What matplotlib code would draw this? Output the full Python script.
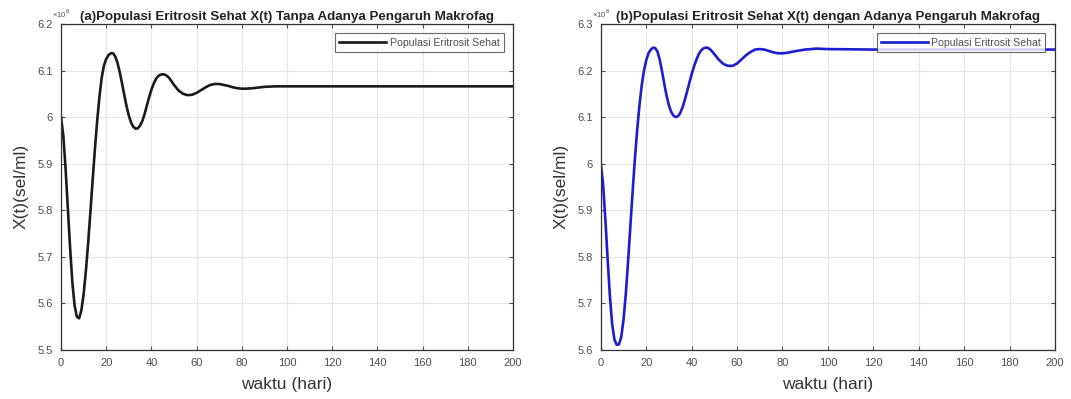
import numpy as np
import matplotlib
matplotlib.use('Agg')
import matplotlib.pyplot as plt

plt.rcParams['font.family'] = ['Liberation Sans', 'DejaVu Sans']

# waktu (hari) and X(t) (values x 10^6)
t_a = [0, 1, 2, 3, 4, 5, 6, 7, 8, 9, 10, 11, 12, 13, 14, 15, 16, 17, 18, 19,
       20, 21, 22, 23, 24, 25, 26, 27, 28, 29, 30, 31, 32, 33, 34, 35, 36, 37,
       38, 39, 40, 41, 42, 43, 44, 45, 46, 47, 48, 50, 52, 54, 56, 58, 60, 62,
       64, 66, 68, 70, 72, 74, 76, 78, 80, 82, 85, 90, 95, 100, 120, 150, 200]
x_a = [6.000, 5.960, 5.890, 5.805, 5.720, 5.645, 5.595, 5.571, 5.568, 5.585,
       5.620, 5.670, 5.730, 5.797, 5.866, 5.932, 5.993, 6.044, 6.085, 6.111,
       6.125, 6.133, 6.137, 6.137, 6.130, 6.116, 6.096, 6.072, 6.047, 6.023,
       6.003, 5.988, 5.979, 5.975, 5.976, 5.982, 5.992, 6.007, 6.025, 6.043,
       6.059, 6.072, 6.082, 6.088, 6.091, 6.092, 6.091, 6.088, 6.083, 6.069,
       6.057, 6.050, 6.047, 6.048, 6.052, 6.058, 6.064, 6.069, 6.071, 6.071,
       6.069, 6.067, 6.064, 6.062, 6.061, 6.061, 6.062, 6.065, 6.066, 6.066,
       6.066, 6.066, 6.066]

t_b = [0, 1, 2, 3, 4, 5, 6, 7, 8, 9, 10, 11, 12, 13, 14, 15, 16, 17, 18, 19,
       20, 21, 22, 23, 24, 25, 26, 27, 28, 29, 30, 31, 32, 33, 34, 35, 36, 37,
       38, 39, 40, 41, 42, 43, 44, 45, 46, 47, 48, 49, 50, 52, 54, 56, 58, 60,
       62, 64, 66, 68, 70, 72, 74, 76, 78, 80, 82, 85, 90, 95, 100, 120, 150, 200]
x_b = [6.000, 5.955, 5.880, 5.795, 5.715, 5.655, 5.622, 5.611, 5.612, 5.628,
       5.665, 5.720, 5.790, 5.865, 5.940, 6.010, 6.072, 6.125, 6.168, 6.200,
       6.222, 6.237, 6.245, 6.249, 6.248, 6.240, 6.222, 6.197, 6.170, 6.145,
       6.125, 6.111, 6.103, 6.100, 6.102, 6.109, 6.121, 6.137, 6.155, 6.174,
       6.192, 6.208, 6.222, 6.234, 6.242, 6.247, 6.249, 6.249, 6.246, 6.241,
       6.235, 6.223, 6.214, 6.210, 6.210, 6.215, 6.224, 6.233, 6.240, 6.245,
       6.246, 6.245, 6.242, 6.239, 6.237, 6.237, 6.238, 6.241, 6.245, 6.247,
       6.246, 6.245, 6.245, 6.245]

titles = ['(a)Populasi Eritrosit Sehat X(t) Tanpa Adanya Pengaruh Makrofag',
          '(b)Populasi Eritrosit Sehat X(t) dengan Adanya Pengaruh Makrofag']
legend_label = 'Populasi Eritrosit Sehat'
ylims = [(5.5, 6.2), (5.6, 6.3)]
colors = ['#1a1a1a', '#1c1cd0']

fig = plt.figure(figsize=(10.71, 3.99), dpi=100)
ax_a = fig.add_axes([0.057, 0.123, 0.422, 0.817])
ax_b = fig.add_axes([0.561, 0.123, 0.424, 0.817])

gray = '#4d4d4d'
for ax, t, x, title, ylim, col in zip([ax_a, ax_b], [t_a, t_b], [x_a, x_b],
                                      titles, ylims, colors):
    ax.plot(t, x, color=col, lw=1.9, label=legend_label)
    ax.set_xlim(0, 200)
    ax.set_ylim(*ylim)
    ax.set_xticks(np.arange(0, 201, 20))
    yt = np.round(np.arange(ylim[0], ylim[1] + 0.001, 0.1), 1)
    ax.set_yticks(yt)
    ax.set_yticklabels(['6' if v == 6 else f'{v:g}' for v in yt])
    ax.grid(True, color='#e6e6e6', lw=0.8)
    ax.set_axisbelow(True)
    ax.tick_params(direction='in', top=True, right=True, length=3,
                   labelsize=8, colors=gray, pad=6)
    for s in ax.spines.values():
        s.set_color('#333333')
        s.set_linewidth(0.9)
    ax.set_title(title, fontsize=9.6, fontweight='bold', pad=3, color='#222222')
    # exponent marker, tucked just left of the title
    ax.text(0.02, 1.012, '×10$^{6}$', transform=ax.transAxes, fontsize=5.5,
            color=gray, ha='right', va='bottom')
    ax.set_xlabel('waktu (hari)', fontsize=12.5, color='#333333', labelpad=6)
    ax.set_ylabel('X(t)(sel/ml)', fontsize=12.5, color='#333333', labelpad=6)
    leg = ax.legend(loc='upper right', fontsize=7.6, handlelength=4.5,
                    frameon=True, fancybox=False, borderaxespad=0.9,
                    borderpad=0.4, handletextpad=0.3)
    leg.get_frame().set_edgecolor('#444444')
    leg.get_frame().set_linewidth(0.8)
    for txt in leg.get_texts():
        txt.set_color(gray)

plt.savefig('out.png', dpi=100)
